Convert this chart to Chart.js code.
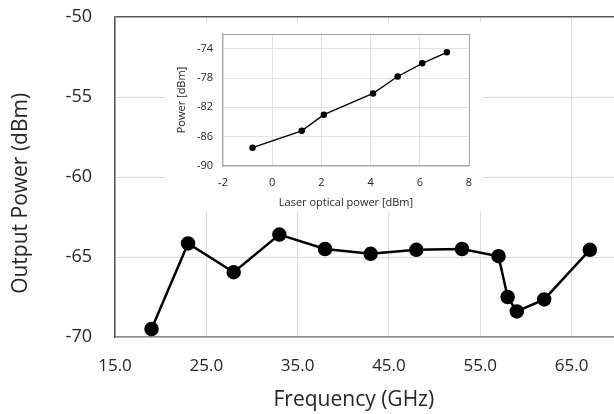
<!DOCTYPE html>
<html>
<head>
<meta charset="utf-8">
<script src="https://cdn.jsdelivr.net/npm/chart.js@4/dist/chart.umd.min.js"></script>
<style>
html,body{margin:0;padding:0;background:#fff;overflow:hidden;}
#wrap{position:relative;width:614px;height:414px;overflow:hidden;}
#main{position:absolute;left:0;top:0;}
#insetBox{position:absolute;left:165px;top:22px;width:318px;height:190px;background:#fff;}
</style>
</head>
<body>
<div id="wrap">
<canvas id="main" width="623" height="414"></canvas>
<div id="insetBox"><canvas id="inset" width="318" height="190"></canvas></div>
</div>
<script>
// Main chart data
const freq = [19, 23, 28, 33, 38, 43, 48, 53, 57, 58, 59, 62, 67];
const power = [-69.5, -64.15, -65.95, -63.6, -64.5, -64.8, -64.55, -64.5, -64.95, -67.5, -68.4, -67.65, -64.55];
const xTicks = [15, 25, 35, 45, 55, 65];
const yTicks = [-70, -65, -60, -55, -50];

// Inset data
const laser = [-0.8, 1.2, 2.1, 4.1, 5.1, 6.1, 7.1];
const insetPower = [-87.5, -85.2, -83.0, -80.1, -77.8, -76.0, -74.5];
const insetXTicks = [-2, 0, 2, 4, 6, 8];
const insetYTicks = [-90, -86, -82, -78, -74];

const FONT = "'Open Sans', sans-serif";
const TXT = '#262626';

function noPad(s) { s.paddingTop = 0; s.paddingBottom = 0; s.paddingLeft = 0; s.paddingRight = 0; }

new Chart(document.getElementById('main'), {
  type: 'scatter',
  data: {
    datasets: [{
      data: freq.map((f, i) => ({x: f, y: power[i]})),
      showLine: true,
      borderColor: '#000',
      borderWidth: 2.5,
      pointBackgroundColor: '#000',
      pointBorderColor: '#000',
      pointRadius: 6,
      tension: 0
    }]
  },
  options: {
    responsive: false,
    animation: false,
    devicePixelRatio: 1,
    layout: {padding: {top: 17, right: 0, left: 0, bottom: 0}},
    plugins: {legend: {display: false}, tooltip: {enabled: false}},
    scales: {
      x: {
        type: 'linear', min: 15, max: 69.7,
        afterBuildTicks: s => { s.ticks = xTicks.map(v => ({value: v})); },
        afterFit: s => { s.height = 77; noPad(s); },
        ticks: {font: {family: FONT, size: 17}, color: TXT, padding: 19, callback: v => v.toFixed(1), maxRotation: 0},
        grid: {color: '#dcdcdc', drawTicks: false, lineWidth: 1},
        border: {color: '#8c8c8c', width: 1.5},
        title: {display: true, text: 'Frequency (GHz)    ', font: {family: FONT, size: 21}, color: TXT, padding: {top: 0, bottom: 1}}
      },
      y: {
        type: 'linear', min: -70, max: -50,
        afterBuildTicks: s => { s.ticks = yTicks.map(v => ({value: v})); },
        afterFit: s => { s.width = 115; noPad(s); },
        ticks: {font: {family: FONT, size: 18}, color: TXT, padding: 23},
        grid: {color: c => (c.tick && c.tick.value === -50) ? '#595959' : '#dcdcdc', lineWidth: c => (c.tick && c.tick.value === -50) ? 1.5 : 1, drawTicks: false},
        border: {color: '#595959', width: 1.5},
        title: {display: true, text: 'Output Power (dBm)      ', font: {family: FONT, size: 21}, color: TXT, padding: {top: 8, bottom: 0}}
      }
    }
  }
});

new Chart(document.getElementById('inset'), {
  type: 'scatter',
  data: {
    datasets: [{
      data: laser.map((l, i) => ({x: l, y: insetPower[i]})),
      showLine: true,
      borderColor: '#000',
      borderWidth: 1.3,
      pointBackgroundColor: '#000',
      pointBorderColor: '#000',
      pointRadius: 2.6,
      tension: 0
    }]
  },
  options: {
    responsive: false,
    animation: false,
    devicePixelRatio: 1,
    layout: {padding: {top: 12, right: 14, left: 0, bottom: 0}},
    plugins: {legend: {display: false}, tooltip: {enabled: false}},
    scales: {
      x: {
        type: 'linear', min: -2, max: 8,
        afterBuildTicks: s => { s.ticks = insetXTicks.map(v => ({value: v})); },
        afterFit: s => { s.height = 46; noPad(s); },
        ticks: {font: {family: FONT, size: 11}, color: TXT, padding: 10, maxRotation: 0},
        grid: {color: c => (c.tick && c.tick.value === 8) ? '#a6a6a6' : '#e3e3e3', drawTicks: false},
        border: {color: '#a6a6a6', width: 1.2},
        title: {display: true, text: 'Laser optical power [dBm]', font: {family: FONT, size: 11}, color: TXT, padding: {top: 0, bottom: 3}}
      },
      y: {
        type: 'linear', min: -90, max: -72,
        afterBuildTicks: s => { s.ticks = insetYTicks.concat([-72]).map(v => ({value: v})); },
        afterFit: s => { s.width = 58; noPad(s); },
        ticks: {font: {family: FONT, size: 11}, color: TXT, padding: 10, callback: v => (v === -72 ? '' : v)},
        grid: {color: c => (c.tick && c.tick.value === -72) ? '#a6a6a6' : '#e3e3e3', drawTicks: false},
        border: {color: '#a6a6a6', width: 1.2},
        title: {display: true, text: 'Power [dBm]', font: {family: FONT, size: 11}, color: TXT, padding: {top: 10, bottom: 0}}
      }
    }
  }
});
</script>
</body>
</html>
